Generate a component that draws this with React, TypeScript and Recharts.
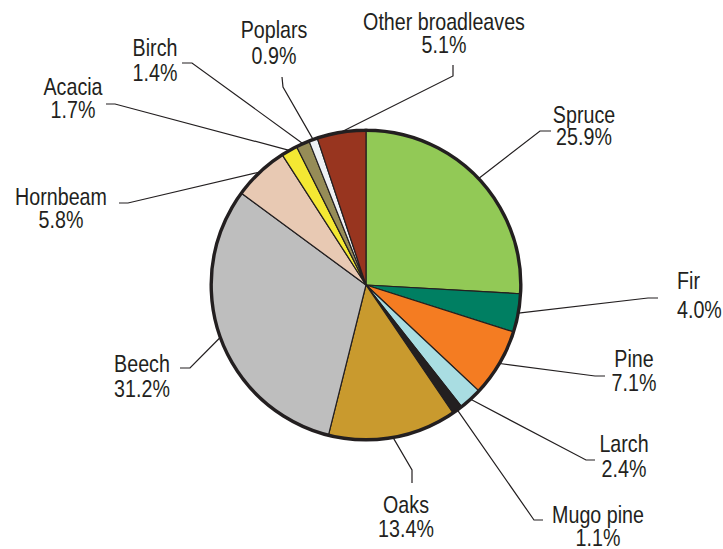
import { PieChart, Pie, Cell } from "recharts";

const species = [
  "Spruce", "Fir", "Pine", "Larch", "Mugo pine", "Oaks",
  "Beech", "Hornbeam", "Acacia", "Birch", "Poplars", "Other broadleaves",
];
const shares = [25.9, 4.0, 7.1, 2.4, 1.1, 13.4, 31.2, 5.8, 1.7, 1.4, 0.9, 5.1];
const colors = [
  "#92c956", "#007f62", "#f47c22", "#a9dde2", "#231f20", "#c99a2e",
  "#bebebe", "#e8c9b3", "#f4e833", "#968c57", "#eef0f4", "#98351f",
];

// label placement: leader elbow, leader end, text position
const labelLayout = [
  { elbow: [540, 131], end: [551, 131], x: 584, y1: 123, y2: 145, anchor: "middle" },
  { elbow: [648, 298], end: [658, 298], x: 677, y1: 289, y2: 318, anchor: "start" },
  { elbow: [595, 376], end: [605, 376], x: 634, y1: 367, y2: 391, anchor: "middle" },
  { elbow: [586, 460], end: [595, 460], x: 624, y1: 452, y2: 477, anchor: "middle" },
  { elbow: [534, 520], end: [543, 520], x: 598, y1: 523, y2: 546, anchor: "middle" },
  { elbow: [412, 470], end: [412, 483], x: 406, y1: 513, y2: 537, anchor: "middle" },
  { elbow: [190, 368], end: [180, 368], x: 142, y1: 372, y2: 397, anchor: "middle" },
  { elbow: [128, 203], end: [119, 203], x: 61, y1: 205, y2: 228, anchor: "middle" },
  { elbow: [115, 104], end: [106, 104], x: 73, y1: 95, y2: 118, anchor: "middle" },
  { elbow: [192, 63], end: [182, 63], x: 155, y1: 56, y2: 81, anchor: "middle" },
  { elbow: [283, 87], end: [282, 77], x: 274, y1: 38, y2: 64, anchor: "middle" },
  { elbow: [453, 76], end: [453, 65], x: 444, y1: 30, y2: 53, anchor: "middle" },
];

const data = species.map((name, i) => ({ name, value: shares[i] }));
const ring = [{ name: "all", value: 1 }];

const RADIAN = Math.PI / 180;
const ink = "#231f20";
const font = '"Liberation Sans", Arial, sans-serif';

function NarrowText({ x, y, anchor, children }: any) {
  return (
    <text
      transform={`translate(${x} ${y}) scale(0.82 1)`}
      x={0}
      y={0}
      textAnchor={anchor}
      fill={ink}
      fontSize={24}
      fontFamily={font}
    >
      {children}
    </text>
  );
}

function renderLabel(props: any) {
  const { cx, cy, midAngle, outerRadius, index, value, name } = props;
  const lay = labelLayout[index];
  const sx = cx + outerRadius * Math.cos(-midAngle * RADIAN);
  const sy = cy + outerRadius * Math.sin(-midAngle * RADIAN);
  return (
    <g key={`lbl-${index}`}>
      <polyline
        points={`${sx},${sy} ${lay.elbow[0]},${lay.elbow[1]} ${lay.end[0]},${lay.end[1]}`}
        fill="none"
        stroke={ink}
        strokeWidth={1.2}
      />
      <NarrowText x={lay.x} y={lay.y1} anchor={lay.anchor}>{name}</NarrowText>
      <NarrowText x={lay.x} y={lay.y2} anchor={lay.anchor}>{Number(value).toFixed(1)}%</NarrowText>
    </g>
  );
}

export default function App() {
  return (
    <div style={{ position: "absolute", left: 0, top: 0, background: "#fff" }}>
      <PieChart width={723} height={549} margin={{ top: 0, right: 0, bottom: 0, left: 0 }}>
        <Pie
          data={data}
          dataKey="value"
          nameKey="name"
          cx={366}
          cy={285}
          outerRadius={155}
          startAngle={90}
          endAngle={-270}
          stroke={ink}
          strokeWidth={1.2}
          label={renderLabel}
          labelLine={false}
          isAnimationActive={false}
        >
          {data.map((d, i) => (
            <Cell key={d.name} fill={colors[i]} />
          ))}
        </Pie>
        <Pie
          data={ring}
          dataKey="value"
          cx={366}
          cy={285}
          innerRadius={154.6}
          outerRadius={155}
          startAngle={90}
          endAngle={-270}
          fill="none"
          stroke={ink}
          strokeWidth={3}
          isAnimationActive={false}
        />
      </PieChart>
    </div>
  );
}
